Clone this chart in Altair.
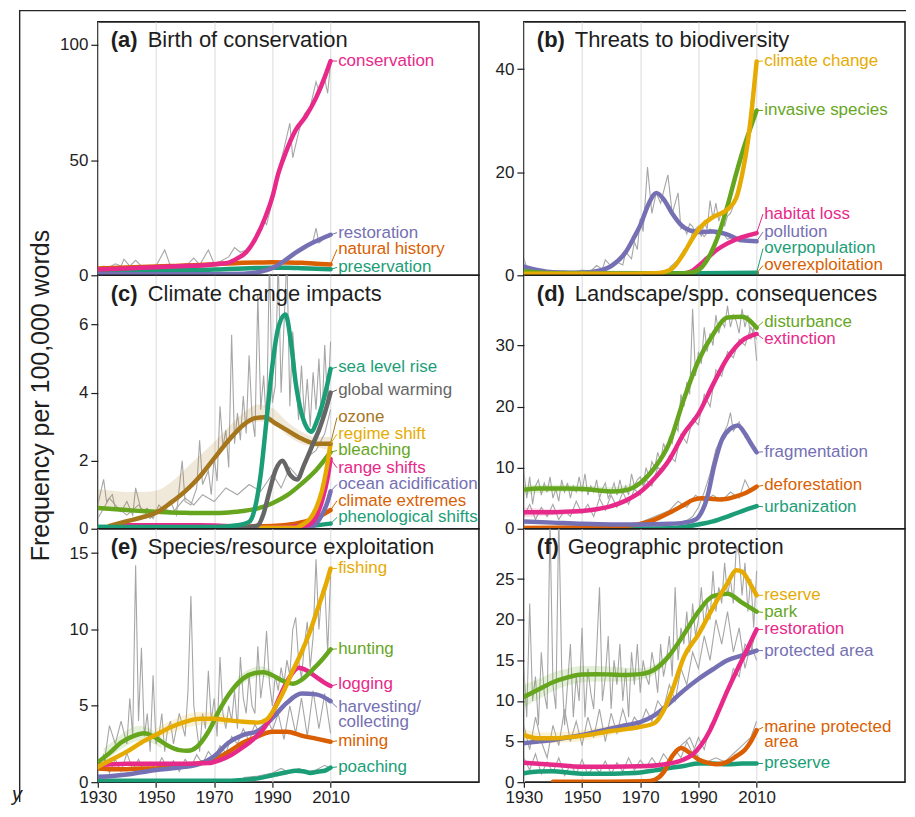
import altair as alt
import pandas as pd

FONT = "Liberation Sans"
INK = "#1e1e1e"
GRID = "#d9d9d9"
RAW = "#a6a6a6"
PINK, PURPLE, ORANGE, TEAL = "#E7298A", "#7570B3", "#D95F02", "#1B9E77"
GOLD, GREEN, BROWN, GREY = "#E6AB02", "#66A61E", "#A6761D", "#666666"

X_TICKS = [1930, 1950, 1970, 1990, 2010]
X_DOMAIN = [1930, 2061]
Y5 = [1930, 1935, 1940, 1945, 1950, 1955, 1960, 1965, 1970, 1975, 1980, 1985, 1990, 1995, 2000, 2005, 2010]
Y2 = list(range(1930, 2011, 2))
Y1 = list(range(1930, 2011))

# ---------------- (a) Birth of conservation ----------------
A_CONS_X = [1930, 1940, 1950, 1960, 1968, 1972, 1975, 1977.5, 1981, 1984, 1987.5, 1990, 1992, 1994.5, 1998, 2001.5, 2005, 2008, 2010]
A_CONS_Y = [2.5, 3, 3.5, 4, 4.5, 5, 5.5, 7, 10, 15.5, 25, 34, 44, 53, 63, 69, 77, 86, 93]
A_NATHIST_Y = [3, 3.2, 3.4, 3.6, 3.8, 4, 4.2, 4.5, 4.8, 5.1, 5.4, 5.6, 5.7, 5.6, 5.4, 5.0, 4.7]
A_PRESERV_Y = [1.5, 1.6, 1.8, 1.9, 2, 2.1, 2.2, 2.3, 2.5, 2.7, 3, 3.2, 3.3, 3.3, 3.1, 2.8, 2.6]
A_RESTOR_X = [1930, 1950, 1970, 1980, 1985, 1988, 1991, 1994, 1998, 2001, 2004, 2007, 2010]
A_RESTOR_Y = [0.6, 0.5, 0.5, 0.7, 1.3, 2.2, 3.8, 6.2, 9.8, 12.2, 14.2, 16, 17.6]
RAW_A1_X = [1930, 1932, 1934, 1936, 1938, 1939, 1941, 1943, 1945, 1947, 1950, 1953, 1955, 1958, 1961, 1963, 1965, 1968, 1970, 1972, 1975, 1977, 1979, 1981, 1983, 1985, 1987, 1988, 1990, 1992, 1994, 1996, 1997, 1999, 2001, 2003, 2005, 2006, 2008, 2009, 2010]
RAW_A1_Y = [3, 4, 3.5, 5, 4, 7, 4, 6.5, 4, 3.5, 4, 11, 4, 4.5, 5, 7.5, 4.5, 11, 5, 6, 8, 12, 10, 11, 14, 18, 24, 22, 32, 45, 55, 66, 51, 62, 70, 73, 84, 80, 85, 79, 92]
RAW_A2_X = [1980, 1985, 1990, 1993, 1996, 1999, 2002, 2004, 2005, 2006, 2008, 2010]
RAW_A2_Y = [0.8, 1.5, 3, 5, 8, 10, 13, 15, 20.5, 14, 16, 17]

# ---------------- (b) Threats to biodiversity ----------------
B_CLIM_X = [1930, 1960, 1975, 1978, 1981, 1985, 1988, 1991, 1995, 2000, 2003, 2005, 2007, 2008.5, 2010]
B_CLIM_Y = [0.3, 0.3, 0.4, 0.6, 1.3, 4.3, 7.2, 9.5, 11.3, 12.8, 15, 19.5, 26, 33, 41.5]
B_INV_X = [1930, 1940, 1960, 1980, 1988, 1991, 1994, 1997, 2000, 2003, 2006, 2008, 2010]
B_INV_Y = [0.8, 0.4, 0.3, 0.3, 0.6, 1.5, 4.0, 8.0, 13.5, 19.8, 25.5, 28.8, 32]
B_HAB_X = [1942, 1960, 1980, 1985, 1988, 1990, 1993, 1996, 2000, 2005, 2010]
B_HAB_Y = [0.1, 0.1, 0.1, 0.3, 0.9, 1.8, 3.3, 4.8, 6.2, 7.4, 8.2]
B_POL_X = [1930, 1935, 1940, 1950, 1955, 1960, 1965, 1968, 1970, 1973, 1975.5, 1978, 1981, 1984, 1987, 1990, 1995, 2000, 2005, 2010]
B_POL_Y = [1.7, 1.0, 0.6, 0.5, 0.8, 1.8, 4.5, 7.5, 9.7, 14, 16, 14.8, 12, 9.8, 8.7, 8.4, 8.5, 7.9, 6.8, 6.6]
B_OVERPOP_X = [1930, 1970, 1990, 2010]
B_OVERPOP_Y = [0.5, 0.4, 0.4, 0.5]
B_OVEREXP_X = [1945, 1970, 1990, 2010]
B_OVEREXP_Y = [0.2, 0.2, 0.3, 0.4]
RAW_B1_X = [1930, 1931, 1933, 1935, 1938, 1941, 1944, 1947, 1950, 1953, 1955, 1957, 1958, 1960, 1962, 1964, 1965, 1967, 1968, 1969, 1970, 1971, 1972.5, 1974, 1975.5, 1977, 1979.5, 1981, 1983, 1984, 1985, 1986, 1987, 1988, 1989, 1990, 1992, 1994, 1996, 1998, 2000, 2002, 2004, 2006, 2008, 2010]
RAW_B1_Y = [3.3, 1.5, 1.0, 0.6, 0.9, 0.5, 0.8, 0.6, 1.0, 0.8, 1.9, 1.2, 3.0, 1.8, 2.6, 2.0, 4.5, 3.2, 6.5, 5, 11, 8.5, 21, 12, 16, 14, 19.5, 12, 16, 9, 9.5, 8, 10, 9.5, 8, 9, 7.5, 9, 8, 8.5, 7, 7.5, 6.5, 7, 6.5, 6.8]
RAW_B2_X = [1980, 1983, 1985, 1987, 1988, 1990, 1991, 1992, 1993, 1994, 1995, 1996, 1997, 1998, 1999, 2000, 2001, 2002, 2003, 2004, 2005, 2006, 2007, 2008, 2009, 2010]
RAW_B2_Y = [1.5, 3, 5, 6, 8.5, 9.5, 7.5, 10.5, 9, 14.5, 11, 14, 10.5, 12.5, 9.5, 11.5, 12, 13.5, 15, 18, 19, 24, 27, 33, 38, 41]

# ---------------- (c) Climate change impacts ----------------
C_SLR_X = [1930, 1950, 1970, 1978, 1982, 1984, 1986, 1988, 1990, 1992, 1994.5, 1996.5, 1998, 2000, 2002, 2003.5, 2005, 2007, 2008.5, 2010]
C_SLR_Y = [0.05, 0.05, 0.05, 0.1, 0.2, 0.6, 1.6, 3.2, 4.8, 5.9, 6.3, 5.4, 4.3, 3.4, 2.95, 2.85, 3.1, 3.6, 4.1, 4.7]
C_GW_X = [1930, 1980, 1985, 1987, 1989, 1991, 1993.5, 1996, 1998.5, 2001, 2004, 2006, 2008, 2010]
C_GW_Y = [0, 0.02, 0.1, 0.45, 1.1, 1.7, 2.0, 1.6, 1.45, 1.9, 2.5, 2.9, 3.4, 4.0]
C_OZONE_X = [1934, 1940, 1945, 1950, 1955, 1960, 1965, 1970, 1975, 1980, 1984, 1987.5, 1991, 1995, 2000, 2005, 2010]
C_OZONE_Y = [0.08, 0.22, 0.33, 0.47, 0.76, 1.1, 1.53, 2.07, 2.6, 3.05, 3.25, 3.28, 3.1, 2.9, 2.65, 2.5, 2.5]
C_OZONE_LO = [0.62, 0.6, 0.58, 0.55, 0.55, 0.75, 1.05, 1.5, 2.0, 2.5, 2.95, 3.15, 3.1, 2.75, 2.5, 2.4, 2.3]
C_OZONE_HI = [1.15, 1.12, 1.08, 1.08, 1.12, 1.35, 1.75, 2.15, 2.55, 3.0, 3.4, 3.65, 3.55, 3.15, 2.85, 2.7, 2.7]
C_REGIME_X = [1930, 1998, 2000, 2003, 2005, 2007, 2008.5, 2010]
C_REGIME_Y = [0.02, 0.03, 0.1, 0.3, 0.6, 1.1, 1.7, 2.5]
C_BLEACH_Y = [0.61, 0.58, 0.55, 0.52, 0.5, 0.48, 0.47, 0.46, 0.46, 0.48, 0.52, 0.6, 0.75, 0.98, 1.32, 1.72, 2.25]
C_RANGE_X = [1936, 1965, 1990, 2002, 2005, 2007, 2009, 2010]
C_RANGE_Y = [0.1, 0.1, 0.03, 0.1, 0.35, 0.8, 1.5, 2.05]
C_OA_X = [1990, 2003, 2005, 2007, 2009, 2010]
C_OA_Y = [0.0, 0.02, 0.15, 0.4, 0.8, 1.1]
C_CE_X = [1960, 1990, 1998, 2003, 2007, 2010]
C_CE_Y = [0.05, 0.08, 0.15, 0.25, 0.4, 0.55]
C_PHENO_X = [1930, 1990, 2000, 2005, 2010]
C_PHENO_Y = [0.05, 0.05, 0.07, 0.1, 0.15]
RAW_C1_X = [1930, 1932, 1933, 1935, 1936, 1938, 1940, 1942, 1943, 1945, 1947, 1949, 1951, 1953, 1955, 1957, 1959, 1960, 1962, 1964, 1965, 1966, 1968, 1969, 1970,
            1971, 1972, 1973, 1974, 1975, 1976, 1977, 1978, 1979,
            1980, 1981, 1982, 1983, 1984, 1985, 1986, 1987, 1988, 1989,
            1990, 1991, 1992, 1993, 1994, 1995, 1996, 1997, 1998, 1999,
            2000, 2001, 2002, 2003, 2004, 2005, 2006, 2007, 2008, 2009, 2010]
RAW_C1_Y = [0.7, 1.45, 0.8, 1.0, 0.6, 0.5, 0.8, 0.4, 1.2, 0.5, 0.6, 0.3, 0.7, 0.5, 0.8, 0.4, 2.0, 0.8, 0.7, 1.2, 2.6, 1.3, 1.7, 1.0, 2.1,
            1.4, 3.6, 2.4, 2.9, 1.8, 5.7, 2.5, 3.4, 2.6,
            3.9, 2.8, 5.1, 3.3, 2.7, 6.9, 3.5, 4.5, 3.0, 8.0,
            3.7, 4.2, 8.0, 4.0, 6.0, 8.0, 3.6, 5.8, 4.5, 3.2,
            4.8, 3.3, 4.4, 3.0, 4.6, 3.5, 5.0, 3.1, 5.4, 3.6, 5.5]
RAW_C2_X = [1930, 1934, 1937, 1940, 1944, 1948, 1952, 1956, 1960, 1963, 1966, 1970, 1974, 1978, 1982, 1986, 1990, 1993, 1996, 1999, 2002, 2005, 2008, 2010]
RAW_C2_Y = [0.3, 0.9, 0.6, 0.4, 0.7, 0.3, 0.6, 0.5, 0.9, 0.7, 1.0, 0.8, 1.2, 1.0, 1.3, 1.1, 1.6, 1.2, 1.8, 1.5, 2.1, 2.3, 2.8, 3.5]

# ---------------- (d) Landscape/spp. consequences ----------------
D_DIST_Y = [6.4, 6.6, 6.6, 6.6, 6.5, 6.3, 6.1, 6.3, 7.5, 10.0, 14.0, 21.2, 27.5, 31.8, 34.6, 34.7, 32.9]
D_EXT_Y = [2.7, 2.7, 2.7, 2.8, 2.9, 3.2, 3.7, 4.6, 6.0, 8.3, 11.3, 15.6, 18.8, 23.6, 28.0, 30.8, 31.9]
D_FRAG_X = [1930, 1940, 1950, 1960, 1970, 1980, 1985, 1988, 1990, 1993, 1995.5, 1998, 2001, 2003.5, 2006, 2008, 2010]
D_FRAG_Y = [1.2, 1.0, 0.8, 0.7, 0.7, 0.8, 1.0, 1.3, 1.9, 5.1, 10.5, 14.5, 16.4, 16.9, 15.6, 14.0, 12.5]
D_DEF_X = [1930, 1950, 1960, 1970, 1975, 1980, 1985, 1988, 1991, 1994, 1997, 2000, 2003, 2006, 2010]
D_DEF_Y = [0.1, 0.2, 0.3, 0.8, 1.5, 2.6, 3.9, 4.7, 5.0, 4.9, 4.8, 4.9, 5.3, 5.8, 6.9]
D_URB_X = [1930, 1970, 1980, 1985, 1990, 1995, 2000, 2005, 2010]
D_URB_Y = [0.05, 0.05, 0.1, 0.3, 0.7, 1.2, 2.0, 2.9, 3.7]
D_DIST_BAND_X = [1930, 1940, 1950, 1960, 1970]
D_DIST_LO = [5.6, 6.0, 6.1, 5.8, 7.2]
D_DIST_HI = [7.2, 7.2, 7.1, 6.8, 7.8]
D_EXT_BAND_X = [1930, 1940, 1950]
D_EXT_LO = [1.9, 2.2, 2.5]
D_EXT_HI = [3.5, 3.2, 3.3]
RAW_D1_Y = [9.5, 5, 8.5, 4, 7, 8, 5.5, 7.5, 6, 8.5,
            5, 6.5, 4.5, 8, 6, 7.5, 5, 7, 6, 8.5,
            6, 9, 5.5, 7, 6, 8, 5, 6.5, 7.5, 5,
            6, 7.5, 5.5, 8, 6, 7, 5.5, 9, 7, 8,
            8.5, 7, 10, 8.5, 11, 10, 12.5, 11, 14, 12.5,
            15, 14, 17, 16, 22, 20, 24, 22, 36, 25,
            29, 27, 33, 29, 32, 30, 35, 32, 34, 33,
            36.5, 33, 35, 34, 32, 36, 33, 35, 31, 33, 27.5]
RAW_D2_Y = [2, 4, 1.5, 3.5, 2, 4, 1.5, 3, 2, 4.5,
            2.5, 4, 2, 5, 3, 5.5, 3.5, 6, 4, 6.5,
            5.5, 8, 7, 10, 9.5, 12, 11, 15.5, 14, 18,
            17, 22, 20, 26, 25, 29, 28, 31, 30, 33, 31]
RAW_D3_X = [1985, 1988, 1990, 1992, 1994, 1996, 1998, 2000, 2001, 2002, 2004, 2006, 2008, 2010]
RAW_D3_Y = [1, 2, 3.5, 6, 9, 13, 15, 17, 19, 16, 17.5, 15, 14, 13]
RAW_D4_X = [1970, 1975, 1980, 1983, 1986, 1989, 1992, 1995, 1998, 2001, 2004, 2006, 2008, 2010]
RAW_D4_Y = [1, 2, 3, 4.5, 3.5, 5.5, 4.5, 5.5, 4.5, 6, 5, 8, 6, 6.5]

# ---------------- (e) Species/resource exploitation ----------------
E_FISH_X = [1930, 1935, 1940, 1945, 1950, 1955, 1960, 1965, 1970, 1975, 1980, 1985, 1988, 1991, 1994, 1997, 2000, 2003, 2006, 2008, 2010]
E_FISH_Y = [1.0, 1.5, 2.0, 2.6, 3.1, 3.6, 3.95, 4.15, 4.15, 4.05, 3.95, 3.9, 4.1, 4.9, 6.0, 7.3, 8.5, 9.9, 11.6, 12.7, 14.0]
E_HUNT_X = [1930, 1934, 1938, 1942, 1946, 1950, 1954, 1958, 1961, 1964, 1968, 1972, 1976, 1980, 1984, 1987, 1990, 1994, 1997, 2000, 2004, 2007, 2010]
E_HUNT_Y = [1.3, 1.9, 2.6, 3.0, 3.2, 2.9, 2.4, 2.1, 2.05, 2.3, 3.3, 4.8, 6.0, 6.8, 7.15, 7.2, 7.0, 6.6, 6.45, 6.7, 7.4, 8.0, 8.7]
E_LOG_X = [1930, 1940, 1950, 1960, 1968, 1972, 1976, 1980, 1984, 1987, 1990, 1993, 1996, 1999, 2002, 2005, 2008, 2010]
E_LOG_Y = [1.1, 1.2, 1.2, 1.2, 1.25, 1.45, 1.8, 2.3, 2.9, 3.5, 4.5, 5.8, 6.9, 7.5, 7.3, 6.9, 6.5, 6.3]
E_HARV_Y = [0.35, 0.4, 0.5, 0.65, 0.8, 0.9, 1.0, 1.2, 1.7, 2.6, 3.1, 3.35, 4.2, 5.2, 5.8, 5.75, 5.3]
E_MIN_Y = [0.9, 0.85, 0.85, 0.9, 0.9, 1.0, 1.1, 1.25, 1.5, 2.0, 2.6, 3.0, 3.3, 3.3, 3.05, 2.85, 2.65]
E_POACH_X = [1930, 1950, 1975, 1980, 1985, 1990, 1995, 1998, 2001, 2003, 2006, 2008, 2010]
E_POACH_Y = [0.1, 0.1, 0.1, 0.15, 0.25, 0.45, 0.65, 0.75, 0.7, 0.6, 0.7, 0.75, 0.95]
E_FISH_BAND_X = [1950, 1955, 1960, 1965, 1970, 1975]
E_FISH_LO = [2.8, 3.2, 3.55, 3.75, 3.8, 3.8]
E_FISH_HI = [3.5, 4.0, 4.4, 4.6, 4.55, 4.35]
E_HUNT_BAND1_X = [1932, 1936, 1940, 1944, 1948, 1952]
E_HUNT_BAND1_LO = [1.3, 1.9, 2.4, 2.7, 2.6, 2.2]
E_HUNT_BAND1_HI = [2.2, 2.8, 3.4, 3.7, 3.5, 2.9]
E_HUNT_BAND2_X = [1978, 1982, 1986, 1990]
E_HUNT_BAND2_LO = [6.2, 6.7, 6.9, 6.7]
E_HUNT_BAND2_HI = [6.9, 7.4, 7.6, 7.3]
RAW_E1_X = [1930, 1932, 1934, 1936, 1938,
            1940, 1941, 1942, 1943, 1944, 1945, 1946, 1947, 1948, 1949, 1950, 1951, 1952, 1953, 1954, 1955, 1956,
            1958,
            1960, 1961, 1962, 1963, 1964, 1965, 1966, 1967, 1968, 1969,
            1970, 1971, 1972, 1973, 1974, 1975, 1976, 1977, 1978, 1979,
            1980, 1981, 1982, 1983, 1984, 1985, 1986, 1987, 1988, 1989,
            1990, 1991, 1992, 1993, 1994, 1995, 1996, 1997, 1998, 1999,
            2000, 2001, 2002, 2003, 2004, 2005, 2006, 2007, 2008, 2009, 2010]
RAW_E1_Y = [1.5, 1.0, 3.7, 2.5, 4.0,
            2.5, 5.5, 3.0, 14.2, 4.0, 8.8, 3.0, 4.5, 2.0, 7.0, 2.5, 3.0, 4.5, 2.0, 3.5, 4.0, 2.5,
            4.5,
            3.0, 6.0, 12.2, 5.0, 3.5, 2.0, 4.5, 3.5, 7.3, 4.0,
            5.5, 3.0, 8.2, 4.5, 3.5, 5.0, 4.0, 6.0, 3.5, 8.2,
            5.5, 4.5, 7.0, 5.0, 4.5, 8.9, 5.5, 7.0, 9.9, 6.5,
            5.0, 7.0, 6.0, 7.5, 6.5, 8.0, 7.0, 10.0, 10.8, 8.0,
            6.8, 9.0, 10.5, 7.5, 9.5, 14.6, 10.0, 12.5, 13.0, 8.5, 13.5]
RAW_E2_Y = [0.8, 1.8, 0.6, 1.5, 0.7, 1.9, 0.8, 1.5, 0.6, 1.3,
            0.8, 1.6, 0.9, 1.4, 0.7, 1.5, 1.0, 1.8, 1.2, 2.0,
            1.5, 2.4, 1.9, 3.0, 2.5, 3.5, 2.7, 3.8, 3.0, 4.2,
            3.4, 4.5, 2.8, 5.0, 3.2, 5.5, 3.0, 6.0, 3.5, 5.8, 3.2]
RAW_E3_X = [1980, 1985, 1990, 1993, 1996, 1999, 2002, 2005, 2008, 2010]
RAW_E3_Y = [0.3, 0.4, 0.6, 0.9, 0.6, 0.9, 0.7, 0.8, 1.1, 0.9]

# ---------------- (f) Geographic protection ----------------
F_RES_X = [1930, 1935, 1940, 1950, 1960, 1970, 1975, 1978, 1981, 1985, 1990, 1995, 2000, 2003, 2005, 2008, 2010]
F_RES_Y = [5.8, 5.4, 5.4, 5.7, 6.3, 6.8, 7.3, 8.8, 11.3, 15.4, 18.2, 21.5, 24.5, 26.1, 25.9, 24.3, 23.0]
F_PARK_Y = [10.5, 11.4, 12.3, 12.9, 13.25, 13.3, 13.25, 13.2, 13.3, 13.9, 15.6, 18.2, 21.0, 22.9, 23.2, 22.1, 21.0]
F_REST_X = [1930, 1940, 1950, 1960, 1970, 1980, 1985, 1988, 1991, 1994, 1997, 2000, 2003, 2006, 2008, 2010]
F_REST_Y = [2.4, 2.15, 1.9, 1.9, 1.95, 2.3, 2.8, 3.4, 4.6, 6.4, 8.8, 11.3, 13.6, 15.8, 17.3, 18.8]
F_PA_Y = [4.8, 5.0, 5.2, 5.5, 5.8, 6.2, 6.6, 7.0, 7.4, 8.25, 9.7, 11.3, 12.7, 13.9, 15.0, 15.6, 16.2]
F_MPA_X = [1940, 1960, 1972, 1975, 1978, 1981, 1984, 1987, 1990, 1993, 1996, 2000, 2003, 2006, 2008, 2010]
F_MPA_Y = [0.05, 0.05, 0.1, 0.3, 1.2, 3.2, 4.2, 3.6, 2.8, 2.4, 2.2, 2.5, 3.2, 4.0, 5.0, 6.4]
F_PRES_Y = [1.1, 1.3, 1.35, 1.2, 1.05, 1.05, 1.05, 1.1, 1.2, 1.45, 1.75, 2.0, 2.3, 2.3, 2.2, 2.3, 2.3]
F_PARK_BAND_X = [1930, 1935, 1940, 1945, 1950, 1955, 1960, 1965, 1970, 1975, 1980]
F_PARK_LO = [9.2, 10.2, 11.2, 11.9, 12.3, 12.4, 12.4, 12.4, 12.6, 13.3, 15.1]
F_PARK_HI = [12.0, 12.7, 13.5, 14.0, 14.3, 14.3, 14.2, 14.1, 14.0, 14.5, 16.1]
F_RES_BAND_X = [1930, 1935, 1940, 1945, 1950, 1955, 1960, 1965]
F_RES_LO = [5.2, 4.8, 4.8, 4.9, 5.1, 5.4, 5.8, 6.2]
F_RES_HI = [6.6, 6.1, 6.1, 6.2, 6.4, 6.7, 7.0, 7.3]
RAW_F1_Y = [14, 8, 22, 10, 13, 7, 16, 11, 9, 32,
            12, 9, 33, 14, 7, 12, 17, 8, 13, 10,
            19, 8, 14, 11, 9, 16, 24, 10, 13, 18,
            9, 15, 12, 17, 10, 14, 8, 16, 12, 17,
            11, 15, 13, 12, 16, 14, 11, 17, 13, 15,
            18, 13, 24, 15, 19, 17, 21, 16, 22, 18,
            20, 24, 19, 22, 20, 26, 21, 24, 22, 27,
            23, 25, 22, 29, 28, 23, 27, 21, 25, 19, 26]
RAW_F2_Y = [7, 4, 8, 5, 3, 7, 4.5, 9, 5, 7.5,
            4.5, 8, 5.5, 9, 5, 8.5, 6, 9, 6.5, 8,
            7, 9, 7.5, 10, 9, 12, 10, 14, 12, 16,
            14, 18, 15, 20, 17, 21, 16, 19, 14, 17, 15]
RAW_F3_Y = [3, 1.5, 3.5, 1, 2.5, 1.2, 3, 0.8, 2.2, 1,
            2.8, 0.9, 2, 1.2, 2.6, 1, 2.4, 1.3, 3, 1.5,
            2.7, 1.8, 3, 2, 3.5, 2.5, 4, 3, 5, 3.5,
            5.5, 4, 7, 8, 10, 11, 14, 13, 17, 16, 19]
RAW_F4_X = [1978, 1981, 1984, 1987, 1990, 1993, 1996, 1999, 2002, 2005, 2008, 2010]
RAW_F4_Y = [1, 3, 4.5, 5.5, 3, 2.5, 3, 2.5, 3.5, 4.5, 5.5, 7.5]

W, H = 382, 254
GAP = 45

# outer box of the figure (top and left edges), as thin filled strips in pixels relative to panel (a)
FRAME_STRIPS = [(-79, 2 * W + GAP + 1, -12, -10.6),
                (-79, -77.6, -12, 3 * H + 20)]

# series: (label, colour, years, values, label position)
PANELS = {
    "a": dict(letter="(a)", title="Birth of conservation", tdx=50, ymax=110, yticks=[0, 50, 100],
              series=[("conservation", PINK, A_CONS_X, A_CONS_Y, 93),
                      ("restoration", PURPLE, A_RESTOR_X, A_RESTOR_Y, 18.5),
                      ("natural history", ORANGE, Y5, A_NATHIST_Y, 11.2),
                      ("preservation", TEAL, Y5, A_PRESERV_Y, 3.4)],
              raws=[(RAW_A1_X, RAW_A1_Y), (RAW_A2_X, RAW_A2_Y)], bands=[]),
    "b": dict(letter="(b)", title="Threats to biodiversity", tdx=51, ymax=49.2, yticks=[0, 20, 40],
              series=[("climate change", GOLD, B_CLIM_X, B_CLIM_Y, 41.6),
                      ("invasive species", GREEN, B_INV_X, B_INV_Y, 32),
                      ("habitat loss", PINK, B_HAB_X, B_HAB_Y, 11.9),
                      ("pollution", PURPLE, B_POL_X, B_POL_Y, 8.4),
                      ("overpopulation", TEAL, B_OVERPOP_X, B_OVERPOP_Y, 5.2),
                      ("overexploitation", ORANGE, B_OVEREXP_X, B_OVEREXP_Y, 1.9)],
              raws=[(RAW_B1_X, RAW_B1_Y), (RAW_B2_X, RAW_B2_Y)], bands=[]),
    "c": dict(letter="(c)", title="Climate change impacts", tdx=50, ymax=7.45, yticks=[0, 2, 4, 6],
              series=[("sea level rise", TEAL, C_SLR_X, C_SLR_Y, 4.75),
                      ("global warming", GREY, C_GW_X, C_GW_Y, 4.08),
                      ("ozone", BROWN, C_OZONE_X, C_OZONE_Y, 3.27),
                      ("regime shift", GOLD, C_REGIME_X, C_REGIME_Y, 2.78),
                      ("bleaching", GREEN, Y5, C_BLEACH_Y, 2.3),
                      ("range shifts", PINK, C_RANGE_X, C_RANGE_Y, 1.79),
                      ("ocean acidification", PURPLE, C_OA_X, C_OA_Y, 1.3),
                      ("climate extremes", ORANGE, C_CE_X, C_CE_Y, 0.82),
                      ("phenological shifts", TEAL, C_PHENO_X, C_PHENO_Y, 0.33)],
              raws=[(RAW_C1_X, RAW_C1_Y), (RAW_C2_X, RAW_C2_Y)],
              bands=[(BROWN, Y5, C_OZONE_LO, C_OZONE_HI)]),
    "d": dict(letter="(d)", title="Landscape/spp. consequences", tdx=51, ymax=41.5, yticks=[0, 10, 20, 30],
              series=[("disturbance", GREEN, Y5, D_DIST_Y, 33.9),
                      ("extinction", PINK, Y5, D_EXT_Y, 31.1),
                      ("fragmentation", PURPLE, D_FRAG_X, D_FRAG_Y, 12.6),
                      ("deforestation", ORANGE, D_DEF_X, D_DEF_Y, 7.1),
                      ("urbanization", TEAL, D_URB_X, D_URB_Y, 3.6)],
              raws=[(Y1, RAW_D1_Y), (Y2, RAW_D2_Y), (RAW_D3_X, RAW_D3_Y), (RAW_D4_X, RAW_D4_Y)],
              bands=[(GREEN, D_DIST_BAND_X, D_DIST_LO, D_DIST_HI), (PINK, D_EXT_BAND_X, D_EXT_LO, D_EXT_HI)]),
    "e": dict(letter="(e)", title="Species/resource exploitation", tdx=50, ymax=16.6, yticks=[0, 5, 10, 15],
              series=[("fishing", GOLD, E_FISH_X, E_FISH_Y, 14.0),
                      ("hunting", GREEN, E_HUNT_X, E_HUNT_Y, 8.73),
                      ("logging", PINK, E_LOG_X, E_LOG_Y, 6.4),
                      ("harvesting/\ncollecting", PURPLE, Y5, E_HARV_Y, 4.9),
                      ("mining", ORANGE, Y5, E_MIN_Y, 2.7),
                      ("poaching", TEAL, E_POACH_X, E_POACH_Y, 1.0)],
              raws=[(RAW_E1_X, RAW_E1_Y), (Y2, RAW_E2_Y), (RAW_E3_X, RAW_E3_Y)],
              bands=[(GOLD, E_FISH_BAND_X, E_FISH_LO, E_FISH_HI),
                     (GREEN, E_HUNT_BAND1_X, E_HUNT_BAND1_LO, E_HUNT_BAND1_HI),
                     (GREEN, E_HUNT_BAND2_X, E_HUNT_BAND2_LO, E_HUNT_BAND2_HI)]),
    "f": dict(letter="(f)", title="Geographic protection", tdx=44, ymax=31.2, yticks=[0, 5, 10, 15, 20, 25],
              series=[("reserve", GOLD, F_RES_X, F_RES_Y, 23.0),
                      ("park", GREEN, Y5, F_PARK_Y, 20.9),
                      ("restoration", PINK, F_REST_X, F_REST_Y, 18.8),
                      ("protected area", PURPLE, Y5, F_PA_Y, 16.2),
                      ("marine protected\narea", ORANGE, F_MPA_X, F_MPA_Y, 6.75),
                      ("preserve", TEAL, Y5, F_PRES_Y, 2.3)],
              raws=[(Y1, RAW_F1_Y), (Y2, RAW_F2_Y), (Y2, RAW_F3_Y), (RAW_F4_X, RAW_F4_Y)],
              bands=[(GREEN, F_PARK_BAND_X, F_PARK_LO, F_PARK_HI), (GOLD, F_RES_BAND_X, F_RES_LO, F_RES_HI)]),
}


def build_panel(key, show_x, ytitle, frame=False):
    p = PANELS[key]
    xsc = alt.Scale(domain=X_DOMAIN, nice=False, zero=False)
    ysc = alt.Scale(domain=[0, p["ymax"]], nice=False, zero=False)
    xax = alt.Axis(values=X_TICKS, grid=True, gridColor=GRID, gridWidth=1, domain=False,
                   labels=show_x, ticks=show_x, tickSize=5, tickColor=INK, tickWidth=1.2,
                   labelFontSize=17, labelColor=INK, labelPadding=2, labelFlush=False,
                   format="d", title=None)
    yargs = dict(values=p["yticks"], grid=False, domain=False, tickSize=7, tickColor=INK,
                 tickWidth=1.2, labelFontSize=17, labelColor=INK, labelPadding=3, format="d")
    if ytitle:
        yargs.update(title="Frequency per 100,000 words", titleFontSize=25, titleFontWeight="normal",
                     titleColor=INK, titleX=-44, titleY=120, titleAngle=270, titleAlign="center",
                     titleBaseline="bottom")
    else:
        yargs["title"] = None
    yax = alt.Axis(**yargs)

    def X(f):
        return alt.X(f"{f}:Q", scale=xsc, axis=xax)

    def Y(f):
        return alt.Y(f"{f}:Q", scale=ysc, axis=yax)

    layers = []
    if frame:
        # the figure's outer box (top and left edges)
        for (x0, x1, y0, y1) in FRAME_STRIPS:
            layers.append(alt.Chart(pd.DataFrame({"k": [0]}))
                          .mark_rect(color="#262626", opacity=1, clip=False)
                          .encode(x=alt.value(x0), x2=alt.value(x1), y=alt.value(y0), y2=alt.value(y1)))

    raw_rows = []
    for i, (xs, ys) in enumerate(p["raws"]):
        raw_rows += [dict(rid=i, year=x, value=v) for x, v in zip(xs, ys)]
    layers.append(alt.Chart(pd.DataFrame(raw_rows)).mark_line(color=RAW, strokeWidth=1.1, clip=True)
                  .encode(X("year"), Y("value"), detail="rid:N"))

    if p["bands"]:
        band_rows = []
        for i, (c, xs, lo, hi) in enumerate(p["bands"]):
            band_rows += [dict(bid=i, color=c, year=x, lo=a, hi=b) for x, a, b in zip(xs, lo, hi)]
        layers.append(alt.Chart(pd.DataFrame(band_rows))
                      .mark_area(opacity=0.17, clip=True, interpolate="monotone")
                      .encode(X("year"), Y("lo"), y2="hi:Q",
                              color=alt.Color("color:N", scale=None), detail="bid:N"))

    for name, c, xs, ys, _ in reversed(p["series"]):
        df = pd.DataFrame({"year": xs, "value": ys})
        layers.append(alt.Chart(df).mark_line(color=c, strokeWidth=4.5, interpolate="monotone",
                                              clip=True, strokeCap="round")
                      .encode(X("year"), Y("value")))

    lead = pd.DataFrame([dict(x0=2010, y0=ys[-1], x1=2012.2, y1=ly, color=c)
                         for name, c, xs, ys, ly in p["series"]])
    layers.append(alt.Chart(lead).mark_rule(strokeWidth=1, clip=True)
                  .encode(X("x0"), Y("y0"), x2="x1:Q", y2="y1:Q",
                          color=alt.Color("color:N", scale=None)))

    labs = pd.DataFrame([dict(xl=2012.6, yl=ly, label=name, color=c)
                         for name, c, xs, ys, ly in p["series"]])
    layers.append(alt.Chart(labs).mark_text(align="left", baseline="middle", fontSize=17,
                                            lineBreak="\n", lineHeight=15, clip=True)
                  .encode(X("xl"), Y("yl"), text="label:N",
                          color=alt.Color("color:N", scale=None)))

    layers.append(alt.Chart(pd.DataFrame({"t": [p["letter"]]}))
                  .mark_text(align="left", baseline="middle", fontSize=22, fontWeight="bold", color=INK)
                  .encode(x=alt.value(13), y=alt.value(18.5), text="t:N"))
    layers.append(alt.Chart(pd.DataFrame({"t": [p["title"]]}))
                  .mark_text(align="left", baseline="middle", fontSize=22, color=INK)
                  .encode(x=alt.value(p["tdx"]), y=alt.value(18.5), text="t:N"))

    if frame:
        # caption fragment left of the box
        layers.append(alt.Chart(pd.DataFrame({"t": ["y"]}))
                      .mark_text(align="left", baseline="middle", fontSize=20, fontStyle="italic",
                                 color=INK, clip=False)
                      .encode(x=alt.value(-86), y=alt.value(3 * H + 13), text="t:N"))

    return alt.layer(*layers).properties(width=W, height=H)


panels = [build_panel("a", False, False, frame=True), build_panel("b", False, False),
          build_panel("c", False, True), build_panel("d", False, False),
          build_panel("e", True, False), build_panel("f", True, False)]

chart = (alt.concat(*panels, columns=2, spacing={"row": 0, "column": GAP}, bounds="flush")
         .properties(padding={"left": 3, "top": 0, "right": 0, "bottom": 0})
         .configure(font=FONT)
         .configure_view(stroke=INK, strokeWidth=1.6)
         .configure_axis(labelFont=FONT, titleFont=FONT)
         .configure_text(font=FONT))

chart.save("out.html", embed_options={"renderer": "svg", "actions": False})
